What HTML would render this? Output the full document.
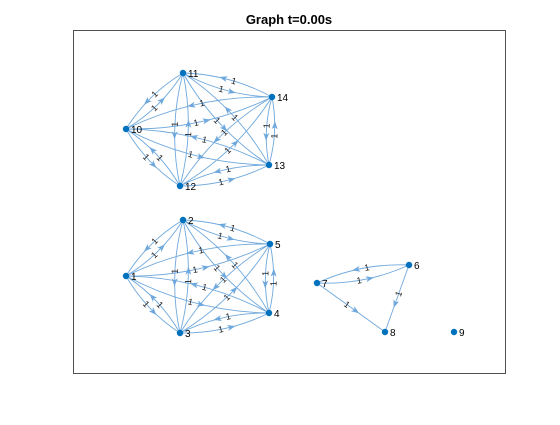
<!DOCTYPE html>
<html><head><meta charset="utf-8"><style>
body{margin:0;background:#fff;width:560px;height:420px;overflow:hidden;font-family:"Liberation Sans",sans-serif}
</style></head><body>
<svg id="chart" width="560" height="420" xmlns="http://www.w3.org/2000/svg">
<rect x="0" y="0" width="560" height="420" fill="#fff"/>
<rect x="73.5" y="30.5" width="432" height="343" fill="#fff" stroke="#262626" stroke-width="0.8"/>
<text x="289" y="24" text-anchor="middle" font-size="13" font-weight="bold" fill="#000">Graph t=0.00s</text>
<g id="edges"></g><g id="nodes"></g>
</svg>
<script>
const nodeIds=["1","2","3","4","5","6","7","8","9","10","11","12","13","14"];
const nodeX=[126,183,180,269,270,409,317,385,454,126,183,180,269,272];
const nodeY=[276,220,333,313,244,265,283,332,332,129,73,186,165,97];
const edgeSrc=[];const edgeDst=[];const edgeW=[];
function clique(g){for(let a=0;a<g.length;a++)for(let b=0;b<g.length;b++)if(a!==b){edgeSrc.push(g[a]);edgeDst.push(g[b]);edgeW.push(1);}}
clique([1,2,3,4,5]);clique([10,11,12,13,14]);
edgeSrc.push(6,7,7,6);edgeDst.push(7,6,8,8);edgeW.push(1,1,1,1);
const NS="http://www.w3.org/2000/svg";
const eg=document.getElementById('edges'),ng=document.getElementById('nodes');
const idx=id=>nodeIds.indexOf(String(id));
function has(a,b){for(let k=0;k<edgeSrc.length;k++)if(edgeSrc[k]==a&&edgeDst[k]==b)return true;return false;}
const col="#6fa8dc";
for(let k=0;k<edgeSrc.length;k++){
 const i=idx(edgeSrc[k]),j=idx(edgeDst[k]);
 const x1=nodeX[i],y1=nodeY[i],x2=nodeX[j],y2=nodeY[j];
 const dx=x2-x1,dy=y2-y1,L=Math.hypot(dx,dy);
 const bi=has(edgeDst[k],edgeSrc[k]);
 const off=bi?L*0.06:0;
 const nx=-dy/L,ny=dx/L;
 const cx=(x1+x2)/2+nx*off*2,cy=(y1+y2)/2+ny*off*2;
 const p=document.createElementNS(NS,'path');
 
 
 p.setAttribute('d',`M${x1},${y1} Q${cx},${cy} ${x2},${y2}`);
 p.setAttribute('fill','none');p.setAttribute('stroke',col);p.setAttribute('stroke-width','0.9');
 eg.appendChild(p);
 const mx=(x1+x2)/2+nx*off,my=(y1+y2)/2+ny*off;
 const ang=Math.atan2(dy,dx)*180/Math.PI;
 const a=document.createElementNS(NS,'path');
 
 
 a.setAttribute('d','M4,0 L-4,-3 L-2,0 L-4,3 Z');
 a.setAttribute('fill',col);
 a.setAttribute('transform',`translate(${mx+dx/L*6},${my+dy/L*6}) rotate(${ang})`);
 eg.appendChild(a);
 const t=document.createElementNS(NS,'text');
 
 
 let ra=ang;if(ra>90)ra-=180;if(ra<-90)ra+=180;
 t.setAttribute('transform',`translate(${mx-dx/L*5},${my-dy/L*5}) rotate(${ra})`);
 t.setAttribute('font-size','9');t.setAttribute('text-anchor','middle');t.setAttribute('dy','3');
 t.setAttribute('fill','#222');t.textContent=edgeW[k];
 eg.appendChild(t);
}
for(let i=0;i<nodeIds.length;i++){
 const c=document.createElementNS(NS,'circle');
 
 
 c.setAttribute('cx',nodeX[i]);c.setAttribute('cy',nodeY[i]);c.setAttribute('r','3.2');c.setAttribute('fill','#0072bd');
 ng.appendChild(c);
 const t=document.createElementNS(NS,'text');
 
 
 t.setAttribute('x',nodeX[i]+5);t.setAttribute('y',nodeY[i]+4);
 t.setAttribute('font-size','10');t.setAttribute('fill','#000');t.textContent=nodeIds[i];
 ng.appendChild(t);
}
</script>
</body></html>
